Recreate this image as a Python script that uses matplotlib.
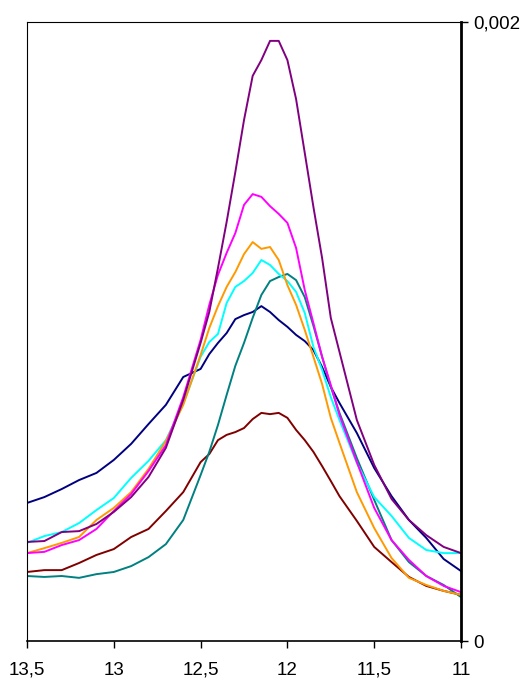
import matplotlib
matplotlib.use("Agg")
import matplotlib.pyplot as plt

x = [13.5, 13.4, 13.3, 13.2, 13.1, 13.0, 12.9, 12.8, 12.7, 12.6,
     12.5, 12.45, 12.4, 12.35, 12.3, 12.25, 12.2, 12.15, 12.1, 12.05,
     12.0, 11.95, 11.9, 11.85, 11.8, 11.75, 11.7,
     11.6, 11.5, 11.4, 11.3, 11.2, 11.1, 11.0]

navy = [0.446, 0.465, 0.491, 0.520, 0.543, 0.585, 0.637, 0.701, 0.763, 0.853,
        0.879, 0.927, 0.963, 0.995, 1.040, 1.053, 1.063, 1.082, 1.063, 1.037,
        1.015, 0.989, 0.969, 0.940, 0.885, 0.821, 0.769,
        0.672, 0.559, 0.468, 0.391, 0.333, 0.265, 0.226]

purple = [0.320, 0.323, 0.352, 0.355, 0.378, 0.417, 0.465, 0.530, 0.624, 0.779,
          0.963, 1.063, 1.205, 1.354, 1.515, 1.683, 1.826, 1.877, 1.939, 1.939,
          1.877, 1.751, 1.577, 1.402, 1.237, 1.044, 0.934,
          0.714, 0.569, 0.459, 0.391, 0.342, 0.304, 0.284]

magenta = [0.284, 0.288, 0.310, 0.326, 0.362, 0.420, 0.475, 0.549, 0.633, 0.788,
           0.973, 1.086, 1.183, 1.254, 1.318, 1.409, 1.444, 1.435, 1.405, 1.380,
           1.351, 1.270, 1.134, 1.027, 0.918, 0.827, 0.730,
           0.578, 0.430, 0.326, 0.262, 0.210, 0.178, 0.158]

orange = [0.284, 0.300, 0.317, 0.336, 0.391, 0.430, 0.481, 0.556, 0.646, 0.763,
          0.924, 1.011, 1.082, 1.144, 1.192, 1.250, 1.289, 1.267, 1.273, 1.231,
          1.150, 1.086, 1.005, 0.918, 0.830, 0.721, 0.640,
          0.481, 0.365, 0.268, 0.204, 0.181, 0.162, 0.149]

cyan = [0.317, 0.339, 0.352, 0.381, 0.423, 0.462, 0.527, 0.582, 0.649, 0.766,
        0.918, 0.966, 0.992, 1.092, 1.144, 1.163, 1.189, 1.231, 1.215, 1.186,
        1.163, 1.128, 1.060, 0.950, 0.876, 0.788, 0.714,
        0.575, 0.465, 0.404, 0.333, 0.294, 0.284, 0.284]

teal = [0.210, 0.207, 0.210, 0.204, 0.216, 0.223, 0.242, 0.271, 0.313, 0.391,
        0.536, 0.611, 0.698, 0.795, 0.889, 0.963, 1.044, 1.118, 1.163, 1.176,
        1.186, 1.166, 1.111, 1.018, 0.918, 0.821, 0.737,
        0.591, 0.456, 0.326, 0.255, 0.210, 0.181, 0.142]

maroon = [0.223, 0.229, 0.229, 0.252, 0.278, 0.297, 0.336, 0.362, 0.420, 0.481,
          0.578, 0.604, 0.649, 0.666, 0.675, 0.688, 0.717, 0.737, 0.733, 0.737,
          0.721, 0.682, 0.649, 0.611, 0.565, 0.517, 0.468,
          0.388, 0.304, 0.255, 0.207, 0.178, 0.162, 0.149]

# values above are in units of 0.001
unit = 0.001

series = [
    (navy, "#000080"),
    (maroon, "#800000"),
    (teal, "#008080"),
    (cyan, "#00FFFF"),
    (orange, "#FF9900"),
    (magenta, "#FF00FF"),
    (purple, "#800080"),
]

x_ticks = [13.5, 13.0, 12.5, 12.0, 11.5, 11.0]
x_tick_labels = ["13,5", "13", "12,5", "12", "11,5", "11"]
y_ticks = [0.0, 0.002]
y_tick_labels = ["0", "0,002"]

plt.rcParams['font.family'] = ['Liberation Sans', 'DejaVu Sans']

fig = plt.figure(figsize=(5.28, 6.82), dpi=100)
ax = fig.add_axes([27/528, 41/682, 434/528, 619/682])

for vals, col in series:
    ax.plot(x, [v * unit for v in vals], color=col, lw=1.4, solid_joinstyle='round')

ax.set_xlim(13.5, 11.0)
ax.set_ylim(0, 0.002)

ax.set_xticks(x_ticks)
ax.set_xticklabels(x_tick_labels, fontsize=13.5)
ax.yaxis.tick_right()
ax.set_yticks(y_ticks)
ax.set_yticklabels(y_tick_labels, fontsize=13.5)

ax.tick_params(axis='x', direction='out', length=5, width=1, pad=10, colors='black')
ax.tick_params(axis='y', direction='out', length=5, width=1, pad=4, colors='black')

ax.spines['left'].set_linewidth(0.8)
ax.spines['top'].set_linewidth(0.8)
ax.spines['right'].set_linewidth(2.0)
ax.spines['bottom'].set_linewidth(1.2)
for s in ax.spines.values():
    s.set_color('black')

fig.savefig("out.png", dpi=100)
